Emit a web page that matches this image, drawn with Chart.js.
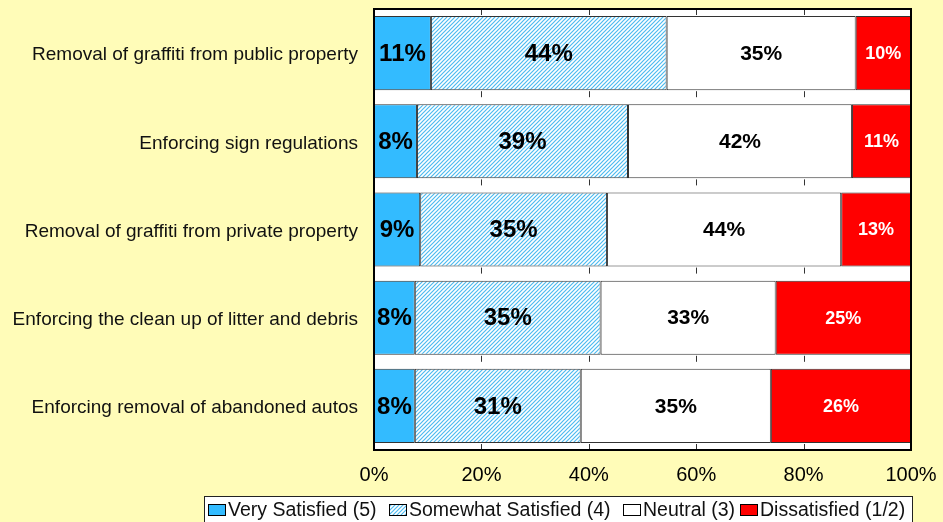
<!DOCTYPE html>
<html>
<head>
<meta charset="utf-8">
<script src="https://cdn.jsdelivr.net/npm/chart.js@4"></script>
<style>
  html, body { margin: 0; padding: 0; background: #FFFCB8; }
  canvas { display: block; }
</style>
</head>
<body>
<canvas id="chart" width="943" height="522"></canvas>
<script>
// data (percent of respondents)
const categories = [
    "Removal of graffiti from public property",
    "Enforcing sign regulations",
    "Removal of graffiti from private property",
    "Enforcing the clean up of litter and debris",
    "Enforcing removal of abandoned autos"
];
const seriesNames = ["Very Satisfied (5)", "Somewhat Satisfied (4)", "Neutral (3)", "Dissatisfied (1/2)"];
const verySatisfied = [10.6, 8.0, 8.6, 7.6, 7.6];
const somewhatSatisfied = [43.9, 39.3, 34.8, 34.6, 30.9];
const neutral = [35.2, 41.7, 43.6, 32.6, 35.4];
const dissatisfied = [10.3, 11.0, 13.0, 25.2, 26.1];
const tickValues = [0, 20, 40, 60, 80, 100];

const FONT = "'Liberation Sans', Arial, sans-serif";
const BG = "#FFFCB8";

// hatch pattern for "somewhat satisfied"
function makeHatch() {
    const c = document.createElement("canvas");
    c.width = 4;
    c.height = 4;
    const g = c.getContext("2d");
    g.fillStyle = "#fff";
    g.fillRect(0, 0, 4, 4);
    g.strokeStyle = "#4DBBF0";
    g.lineWidth = 1.2;
    g.beginPath();
    g.moveTo(-1, 5); g.lineTo(5, -1);
    g.moveTo(-1, 1); g.lineTo(1, -1);
    g.moveTo(3, 5); g.lineTo(5, 3);
    g.stroke();
    return g.createPattern(c, "repeat");
}

const ctx = document.getElementById("chart").getContext("2d");
const hatch = makeHatch();
const fills = ["#33BBFF", hatch, "#FFFFFF", "#FF0000"];
const labelFonts = ["bold 24px " + FONT, "bold 24px " + FONT, "bold 21px " + FONT, "bold 18px " + FONT];
const labelColors = ["#000", "#000", "#000", "#fff"];

const bgPlugin = {
    id: "bg",
    beforeDraw(chart) {
        const c = chart.ctx;
        c.save();
        c.fillStyle = BG;
        c.fillRect(0, 0, chart.width, chart.height);
        const a = chart.chartArea;
        c.fillStyle = "#fff";
        c.fillRect(a.left, a.top, a.right - a.left, a.bottom - a.top);
        c.restore();
    }
};

const extrasPlugin = {
    id: "extras",
    afterDatasetsDraw(chart) {
        const c = chart.ctx;
        const a = chart.chartArea;
        const xs = chart.scales.x;

        // short tick marks at the category boundaries
        const band = (a.bottom - a.top) / categories.length;
        c.save();
        c.strokeStyle = "#333";
        c.lineWidth = 1;
        [20, 40, 60, 80].forEach(v => {
            const px = Math.round(xs.getPixelForValue(v)) + 0.5;
            for (let k = 0; k <= categories.length; k++) {
                const yb = a.top + k * band;
                c.beginPath();
                if (k === 0) { c.moveTo(px, yb); c.lineTo(px, yb + 6); }
                else { c.moveTo(px, yb - 6); c.lineTo(px, yb); }
                c.stroke();
            }
        });

        // value labels
        c.textAlign = "center";
        c.textBaseline = "middle";
        chart.data.datasets.forEach((ds, i) => {
            const meta = chart.getDatasetMeta(i);
            meta.data.forEach((bar, j) => {
                c.font = labelFonts[i];
                c.fillStyle = labelColors[i];
                c.fillText(Math.round(ds.data[j]) + "%", (bar.x + bar.base) / 2, bar.y + 1);
            });
        });

        // frame
        c.strokeStyle = "#000";
        c.lineWidth = 2;
        c.strokeRect(a.left, a.top, a.right - a.left, a.bottom - a.top);
        c.restore();
    },
    afterDraw(chart) {
        // legend box
        const c = chart.ctx;
        const starts = [208, 389, 623, 740];
        c.save();
        c.fillStyle = "#fff";
        c.fillRect(204, 496, 709, 30);
        c.strokeStyle = "#222";
        c.lineWidth = 1;
        c.strokeRect(204.5, 496.5, 708, 30);
        c.font = "19.5px " + FONT;
        c.textBaseline = "middle";
        c.textAlign = "left";
        seriesNames.forEach((name, i) => {
            const x = starts[i];
            c.fillStyle = fills[i];
            c.fillRect(x, 504, 17, 11);
            c.strokeStyle = "#000";
            c.strokeRect(x + 0.5, 504.5, 17, 11);
            c.fillStyle = "#111";
            c.fillText(name, x + 20, 511);
        });
        c.restore();
    }
};

const values = [verySatisfied, somewhatSatisfied, neutral, dissatisfied];

new Chart(ctx, {
    type: "bar",
    data: {
        labels: categories,
        datasets: values.map((d, i) => ({
            label: seriesNames[i],
            data: d,
            backgroundColor: fills[i],
            borderColor: "#333",
            borderWidth: 1,
            borderSkipped: false,
            barPercentage: 0.84,
            categoryPercentage: 1
        }))
    },
    options: {
        indexAxis: "y",
        responsive: false,
        animation: false,
        devicePixelRatio: 1,
        layout: { padding: { top: 9, right: 32, bottom: 0, left: 0 } },
        plugins: {
            legend: { display: false },
            tooltip: { enabled: false }
        },
        scales: {
            x: {
                stacked: true,
                min: 0,
                max: 100,
                afterFit: s => {
                    s.height = 72;
                    s.paddingLeft = 0;
                    s.paddingRight = 0;
                },
                afterBuildTicks: s => { s.ticks = tickValues.map(v => ({ value: v })); },
                grid: { display: false, drawTicks: false },
                border: { display: false },
                ticks: {
                    padding: 13,
                    color: "#000",
                    font: { family: FONT, size: 20 },
                    callback: v => v + "%"
                }
            },
            y: {
                stacked: true,
                afterFit: s => {
                    s.width = 374;
                    s.paddingTop = 0;
                    s.paddingBottom = 0;
                },
                grid: { display: false, drawTicks: false },
                border: { display: false },
                ticks: {
                    padding: 16,
                    labelOffset: 2,
                    color: "#111",
                    font: { family: FONT, size: 19 }
                }
            }
        }
    },
    plugins: [bgPlugin, extrasPlugin]
});
</script>
</body>
</html>
